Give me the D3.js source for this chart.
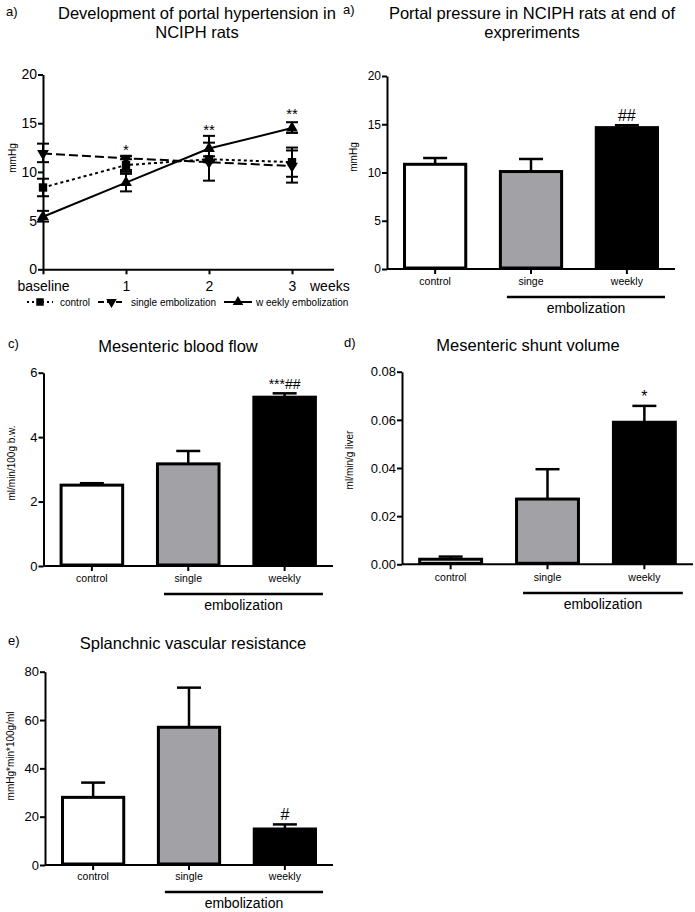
<!DOCTYPE html>
<html><head><meta charset="utf-8">
<script src="https://cdn.jsdelivr.net/npm/d3@7"></script>
<style>
body{margin:0;background:#fff;}
svg text{font-family:"Liberation Sans",Arial,Helvetica,sans-serif;fill:#000;}
</style></head><body>
<svg id="c" width="695" height="912"></svg>
<script>
// ---------- DATA ----------
// Panel a (line): development of portal hypertension
const weekLabels = ["baseline", "1", "2", "3"];
const weekValues = [0, 1, 2, 3];
const controlMean = [8.4, 10.7, 11.3, 11.0];
const controlLow  = [7.5, 10.0, 11.0, 9.5];
const controlHigh = [9.3, 11.3, 11.6, 12.5];
const singleMean  = [11.9, 11.4, 11.0, 10.6];
const singleLow   = [11.0, 10.2, 9.1, 8.9];
const singleHigh  = [12.9, 11.6, 13.0, 12.2];
const weeklyMean  = [5.4, 8.9, 12.4, 14.5];
const weeklyLow   = [4.9, 8.0, 11.2, 14.0];
const weeklyHigh  = [6.0, 9.8, 13.7, 15.1];
const lineStars   = ["", "*", "**", "**"];
const lineStarValue = [0, 12.3, 14.4, 16.0];
const lineTicks = [0, 5, 10, 15, 20];
const legendLabels = ["control", "single embolization", "w eekly embolization"];

// Panel b: portal pressure at end of experiments
const catB = ["control", "singe", "weekly"];
const valB = [10.85, 10.1, 14.65];
const errB = [11.5, 11.4, 14.9];
const sigB = ["", "", "##"];
const ticksB = [0, 5, 10, 15, 20];

// Panel c: mesenteric blood flow
const catC = ["control", "single", "weekly"];
const valC = [2.51, 3.17, 5.24];
const errC = [2.57, 3.57, 5.36];
const sigC = ["", "", "***##"];
const ticksC = [0, 2, 4, 6];

// Panel d: mesenteric shunt volume
const catD = ["control", "single", "weekly"];
const valD = [0.0021, 0.0271, 0.0590];
const errD = [0.0032, 0.0395, 0.0658];
const sigD = ["", "", "*"];
const ticksD = [0, 0.02, 0.04, 0.06, 0.08];

// Panel e: splanchnic vascular resistance
const catE = ["control", "single", "weekly"];
const valE = [28.0, 57.0, 14.9];
const errE = [34.1, 73.4, 16.8];
const sigE = ["", "", "#"];
const ticksE = [0, 20, 40, 60, 80];

const barFills = ["#ffffff", "#a2a1a6", "#000000"];

// ---------- DRAW ----------
const svg = d3.select("#c");

function text(x, y, s, size, anchor, extra) {
  const t = svg.append("text").attr("x", x).attr("y", y).attr("font-size", size)
    .attr("text-anchor", anchor || "middle").text(s);
  if (extra) extra(t);
  return t;
}

function yAxis(scale, x, ticks, fmt, fontSize) {
  const g = svg.append("g").attr("transform", `translate(${x},0)`)
    .call(d3.axisLeft(scale).tickValues(ticks).tickFormat(fmt).tickSize(5).tickSizeOuter(0));
  g.select(".domain").attr("stroke-width", 2);
  g.selectAll(".tick line").attr("stroke-width", 2);
  g.selectAll(".tick text").attr("font-size", fontSize).attr("x", -6)
    .attr("font-family", "Liberation Sans, Arial, sans-serif");
  return g;
}

// Bar panel
function barPanel(cfg) {
  const y = d3.scaleLinear().domain(cfg.domain).range([cfg.y0, cfg.y1]);
  const x = d3.scaleBand().domain(cfg.cats).range([cfg.x0, cfg.x1]).paddingInner(0.33).paddingOuter(0.167);
  cfg.title.forEach((t, i) => text(cfg.titleX, cfg.titleY + i * 19, t, 16.5));
  text(cfg.labelX, cfg.labelY, cfg.label, 13, "start");
  svg.append("text").attr("transform", `translate(${cfg.ylabX},${cfg.ylabY}) rotate(-90)`)
    .attr("text-anchor", "middle").attr("font-size", 10).text(cfg.ylab);
  cfg.vals.forEach((v, i) => {
    const cx = x(cfg.cats[i]) + x.bandwidth() / 2;
    svg.append("line").attr("x1", cx).attr("x2", cx).attr("y1", y(v)).attr("y2", y(cfg.errs[i]))
      .attr("stroke", "#000").attr("stroke-width", 2.5);
    svg.append("line").attr("x1", cx - 12).attr("x2", cx + 12).attr("y1", y(cfg.errs[i])).attr("y2", y(cfg.errs[i]))
      .attr("stroke", "#000").attr("stroke-width", 2.5);
    svg.append("rect").attr("x", x(cfg.cats[i]) + 1.5).attr("width", x.bandwidth() - 3)
      .attr("y", y(v)).attr("height", y(0) - y(v) - 1)
      .attr("fill", barFills[i]).attr("stroke", "#000").attr("stroke-width", 3);
    if (cfg.sig[i]) text(cx, y(cfg.errs[i]) - 4, cfg.sig[i], cfg.sig[i].length > 2 ? 14 : 16);
    text(cx, cfg.catY, cfg.cats[i], 10.5);
  });
  yAxis(y, cfg.x0, cfg.ticks, cfg.fmt, cfg.tickFont);
  svg.append("line").attr("x1", cfg.x0).attr("x2", cfg.x1).attr("y1", y(0)).attr("y2", y(0))
    .attr("stroke", "#000").attr("stroke-width", 2);
  cfg.cats.forEach(c => {
    const cx = x(c) + x.bandwidth() / 2;
    svg.append("line").attr("x1", cx).attr("x2", cx).attr("y1", y(0)).attr("y2", y(0) + 5)
      .attr("stroke", "#000").attr("stroke-width", 2);
  });
  const s = x(cfg.cats[1]) + 8, e = x(cfg.cats[2]) + x.bandwidth() + 6;
  svg.append("line").attr("x1", s).attr("x2", e).attr("y1", cfg.brY).attr("y2", cfg.brY)
    .attr("stroke", "#000").attr("stroke-width", 2.5);
  text((s + e) / 2, cfg.brY + 16, "embolization", 14);
}

barPanel({
  cats: catB, vals: valB, errs: errB, sig: sigB, ticks: ticksB, fmt: d3.format("d"), tickFont: 12,
  domain: [0, 20], y0: 269, y1: 76, x0: 387, x1: 675,
  title: ["Portal pressure in NCIPH rats at end of", "expreriments"], titleX: 532, titleY: 19,
  label: "a)", labelX: 343, labelY: 14, ylab: "mmHg", ylabX: 357, ylabY: 157,
  catY: 285, brY: 297
});
barPanel({
  cats: catC, vals: valC, errs: errC, sig: sigC, ticks: ticksC, fmt: d3.format("d"), tickFont: 13,
  domain: [0, 6], y0: 566, y1: 372.7, x0: 43.5, x1: 333,
  title: ["Mesenteric blood flow"], titleX: 178, titleY: 352,
  label: "c)", labelX: 8, labelY: 348, ylab: "ml/min/100g b.w.", ylabX: 15, ylabY: 463,
  catY: 582, brY: 594
});
barPanel({
  cats: catD, vals: valD, errs: errD, sig: sigD, ticks: ticksD, fmt: d3.format(".2f"), tickFont: 13,
  domain: [0, 0.08], y0: 564.3, y1: 371.7, x0: 402, x1: 693,
  title: ["Mesenteric shunt volume"], titleX: 528, titleY: 351,
  label: "d)", labelX: 344, labelY: 347, ylab: "ml/min/g liver", ylabX: 353, ylabY: 460,
  catY: 581, brY: 593
});
barPanel({
  cats: catE, vals: valE, errs: errE, sig: sigE, ticks: ticksE, fmt: d3.format("d"), tickFont: 13,
  domain: [0, 80], y0: 865, y1: 671.7, x0: 45, x1: 333,
  title: ["Splanchnic vascular resistance"], titleX: 193, titleY: 649,
  label: "e)", labelX: 8, labelY: 645, ylab: "mmHg*min*100g/ml", ylabX: 14, ylabY: 756,
  catY: 880, brY: 892
});

// Line panel
(function () {
  const x = d3.scaleLinear().domain([0, 3.5]).range([43, 333.5]);
  const y = d3.scaleLinear().domain([0, 20]).range([269.3, 74.5]);
  ["Development of portal hypertension in", "NCIPH rats"].forEach((t, i) => text(197, 19 + i * 19, t, 16.5));
  text(6, 16, "a)", 13, "start");
  svg.append("text").attr("transform", `translate(16,158) rotate(-90)`)
    .attr("text-anchor", "middle").attr("font-size", 10).text("mmHg");

  const series = [
    { mean: controlMean, lo: controlLow, hi: controlHigh, dash: "3,3", sym: d3.symbolSquare, size: 70, rot: 0 },
    { mean: singleMean, lo: singleLow, hi: singleHigh, dash: "9,4", sym: d3.symbolTriangle, size: 60, rot: 180 },
    { mean: weeklyMean, lo: weeklyLow, hi: weeklyHigh, dash: null, sym: d3.symbolTriangle, size: 60, rot: 0 }
  ];
  const line = d3.line().x((d, i) => x(weekValues[i])).y(d => y(d));
  series.forEach(s => {
    s.mean.forEach((m, i) => {
      const cx = x(weekValues[i]);
      svg.append("line").attr("x1", cx).attr("x2", cx).attr("y1", y(s.lo[i])).attr("y2", y(s.hi[i]))
        .attr("stroke", "#000").attr("stroke-width", 2);
      [s.lo[i], s.hi[i]].forEach(v => svg.append("line").attr("x1", cx - 6).attr("x2", cx + 6)
        .attr("y1", y(v)).attr("y2", y(v)).attr("stroke", "#000").attr("stroke-width", 2));
    });
  });
  series.forEach(s => {
    const p = svg.append("path").attr("d", line(s.mean)).attr("fill", "none")
      .attr("stroke", "#000").attr("stroke-width", 2);
    if (s.dash) p.attr("stroke-dasharray", s.dash);
    s.mean.forEach((m, i) => {
      svg.append("path").attr("d", d3.symbol().type(s.sym).size(s.size)())
        .attr("transform", `translate(${x(weekValues[i])},${y(m)}) rotate(${s.rot})`).attr("fill", "#000");
    });
  });
  lineStars.forEach((s, i) => { if (s) text(x(weekValues[i]), y(lineStarValue[i]) + 6, s, 15); });

  yAxis(y, 43, lineTicks, d3.format("d"), 14);
  const gx = svg.append("g").attr("transform", `translate(0,${y(0)})`)
    .call(d3.axisBottom(x).tickValues(weekValues).tickFormat((d, i) => weekLabels[i]).tickSize(5).tickSizeOuter(0));
  gx.select(".domain").attr("stroke-width", 2);
  gx.selectAll(".tick line").attr("stroke-width", 2);
  gx.selectAll(".tick text").attr("font-size", 14).attr("y", 12)
    .attr("font-family", "Liberation Sans, Arial, sans-serif");
  text(310, 291, "weeks", 14, "start");

  // legend
  const ly = 302;
  const items = [
    { x0: 27, x1: 53, tx: 60 }, { x0: 98, x1: 125, tx: 131 }, { x0: 224, x1: 252, tx: 256 }
  ];
  items.forEach((it, k) => {
    const s = series[k];
    const l = svg.append("line").attr("x1", it.x0).attr("x2", it.x1).attr("y1", ly).attr("y2", ly)
      .attr("stroke", "#000").attr("stroke-width", 2);
    if (s.dash) l.attr("stroke-dasharray", k === 0 ? "2,3" : "6,3");
    svg.append("path").attr("d", d3.symbol().type(s.sym).size(s.size * 0.8)())
      .attr("transform", `translate(${(it.x0 + it.x1) / 2},${ly}) rotate(${s.rot})`).attr("fill", "#000");
    text(it.tx, ly + 4, legendLabels[k], 10, "start");
  });
})();
</script></body></html>
